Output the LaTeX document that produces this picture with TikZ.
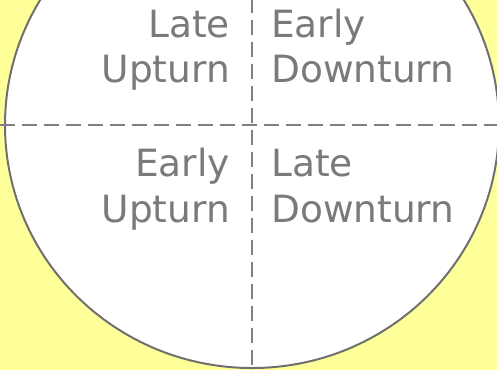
\documentclass[tikz,border=0pt]{standalone}
\usepackage{fontspec}
\setmainfont{DejaVu Sans}
\definecolor{bgyellow}{HTML}{FFFF99}
\definecolor{rimgray}{HTML}{707070}
\definecolor{dashgray}{HTML}{808080}
\definecolor{txtgray}{HTML}{7A7A7A}
\begin{document}
\begin{tikzpicture}[x=1pt,y=-1pt,
  lbl/.style={inner sep=0pt, text=txtgray, font=\fontsize{37.5}{45}\selectfont},
  divider/.style={draw=dashgray, line width=2pt, dash pattern=on 15pt off 7pt}]
\fill[bgyellow] (0,0) rectangle (497,370);
\useasboundingbox (0,0) rectangle (497,370);
\clip (0,0) rectangle (497,370);
\filldraw[fill=white, draw=rimgray, line width=2pt] (252,125) ellipse [x radius=247, y radius=243];
\coordinate (vtop) at (252,-2);
\coordinate (vbot) at (252,368);
\coordinate (hleft) at (0,125);
\coordinate (hright) at (497,125);
\draw[divider] (vtop) -- (vbot);
\draw[divider] (hleft) -- (hright);
\node[lbl, anchor=base east] (tl1) at (230,37) {Late};
\node[lbl, anchor=base east] (tl2) at (230,82) {Upturn};
\node[lbl, anchor=base west] (tr1) at (271,37) {Early};
\node[lbl, anchor=base west] (tr2) at (271,82) {Downturn};
\node[lbl, anchor=base east] (bl1) at (230,176) {Early};
\node[lbl, anchor=base east] (bl2) at (230,222) {Upturn};
\node[lbl, anchor=base west] (br1) at (271,176) {Late};
\node[lbl, anchor=base west] (br2) at (271,222) {Downturn};
\end{tikzpicture}
\end{document}
